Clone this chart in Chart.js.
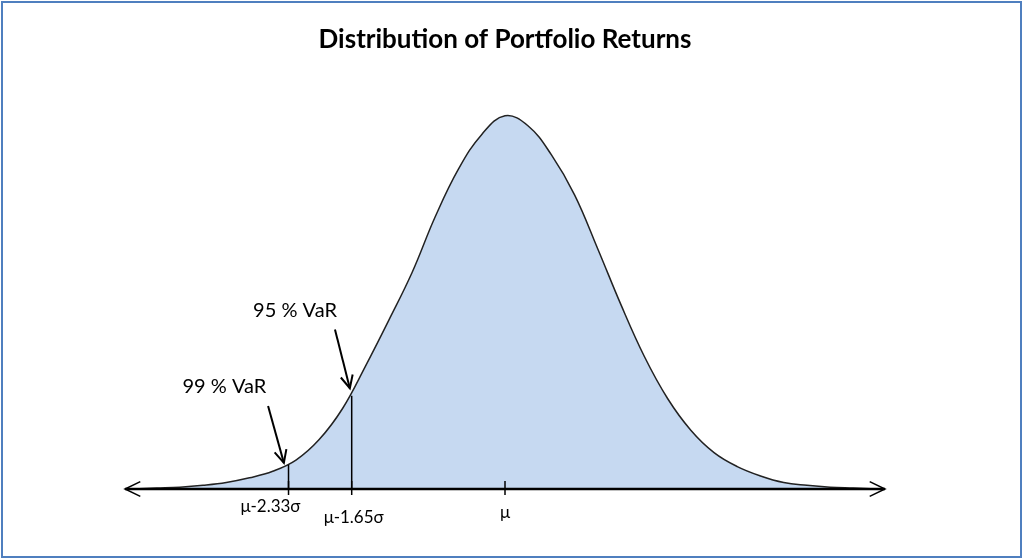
<!DOCTYPE html>
<html>
<head>
<meta charset="utf-8">
<script src="https://cdn.jsdelivr.net/npm/chart.js@4"></script>
<style>
  body { margin: 0; background: #fff; }
  #wrap { position: relative; width: 1023px; height: 559px; }
</style>
</head>
<body>
<div id="wrap"><canvas id="distChart"></canvas></div>
<script>
// returns in sigma units from the mean, densities
const returnsZ = [-4, -3.75, -3.5, -3.25, -3, -2.75, -2.5, -2.25, -2, -1.75, -1.5, -1.25, -1, -0.75, -0.5, -0.25, 0,
                  0.25, 0.5, 0.75, 1, 1.25, 1.5, 1.75, 2, 2.25, 2.5, 2.75, 3, 3.25, 3.5, 3.75, 4];
const density = [0.000, 0.001, 0.002, 0.004, 0.007, 0.012, 0.019, 0.031, 0.053, 0.086, 0.132, 0.181, 0.232, 0.292, 0.343, 0.380, 0.400,
                 0.389, 0.358, 0.315, 0.257, 0.197, 0.142, 0.097, 0.063, 0.039, 0.024, 0.014, 0.007, 0.004, 0.002, 0.001, 0.000];

// VaR cut-offs
const varZ = [-2.33, -1.65];
const varDensity = [0.026, 0.100];
const tickZ = [-2.33, -1.65, 0];
const tickLabels = ['\u03bc-2.33\u03c3', '\u03bc-1.65\u03c3', '\u03bc'];

// annotation labels and arrows (data coords)
const annLabels = ['95 % VaR', '99 % VaR'];
const annLabelZ = [-2.26, -3.02];
const annLabelY = [0.191, 0.110];
const arrowFromZ = [-1.83, -2.55];
const arrowFromY = [0.171, 0.089];
const arrowToZ = [-1.67, -2.38];
const arrowToY = [0.108, 0.028];

const curve = returnsZ.map((z, i) => ({ x: z, y: density[i] }));

const varLines = varZ.map((z, i) => ({
    type: 'line',
    data: [{ x: z, y: 0 }, { x: z, y: varDensity[i] }],
    borderColor: '#000',
    borderWidth: 1.5,
    pointRadius: 0,
    fill: false,
    tension: 0,
    order: 1
}));

function arrowHead(ctx, x1, y1, x2, y2, len) {
    const a = Math.atan2(y2 - y1, x2 - x1);
    ctx.beginPath();
    ctx.moveTo(x2 - len * Math.cos(a - 0.45), y2 - len * Math.sin(a - 0.45));
    ctx.lineTo(x2, y2);
    ctx.lineTo(x2 - len * Math.cos(a + 0.45), y2 - len * Math.sin(a + 0.45));
    ctx.stroke();
}

const extras = {
    id: 'extras',
    afterDatasetsDraw(chart) {
        const ctx = chart.ctx;
        const xs = chart.scales.x, ys = chart.scales.y;
        const y0 = ys.getPixelForValue(0);
        const left = chart.chartArea.left, right = chart.chartArea.right;
        ctx.save();
        ctx.strokeStyle = '#000';
        ctx.fillStyle = '#000';
        // axis line with open arrows
        ctx.lineWidth = 2.5;
        ctx.beginPath();
        ctx.moveTo(left, y0);
        ctx.lineTo(right, y0);
        ctx.stroke();
        ctx.lineWidth = 1.5;
        arrowHead(ctx, right - 20, y0, right, y0, 17);
        arrowHead(ctx, left + 20, y0, left, y0, 17);
        // tick marks and labels
        ctx.font = '17px Lato';
        ctx.textAlign = 'center';
        ctx.textBaseline = 'middle';
        const labelDx = [-18, 2, 0];
        const labelDy = [18, 29, 24];
        tickZ.forEach((z, i) => {
            const px = xs.getPixelForValue(z);
            ctx.lineWidth = 1.5;
            ctx.beginPath();
            ctx.moveTo(px, y0 - 8);
            ctx.lineTo(px, y0 + 6);
            ctx.stroke();
            ctx.fillText(tickLabels[i], px + labelDx[i], y0 + labelDy[i]);
        });
        // VaR annotations
        ctx.font = '20px Lato';
        annLabels.forEach((t, i) => {
            ctx.fillText(t, xs.getPixelForValue(annLabelZ[i]), ys.getPixelForValue(annLabelY[i]));
            const x1 = xs.getPixelForValue(arrowFromZ[i]), y1 = ys.getPixelForValue(arrowFromY[i]);
            const x2 = xs.getPixelForValue(arrowToZ[i]), y2 = ys.getPixelForValue(arrowToY[i]);
            ctx.lineWidth = 2;
            ctx.beginPath();
            ctx.moveTo(x1, y1);
            ctx.lineTo(x2, y2);
            ctx.stroke();
            arrowHead(ctx, x1, y1, x2, y2, 14);
        });
        // frame
        ctx.strokeStyle = '#4f7fbf';
        ctx.lineWidth = 2;
        ctx.strokeRect(2, 2, chart.width - 4, chart.height - 4);
        ctx.restore();
    }
};

new Chart(document.getElementById('distChart'), {
    type: 'line',
    data: {
        datasets: [{
            data: curve,
            borderColor: '#222',
            borderWidth: 1.5,
            backgroundColor: '#c6d9f1',
            fill: 'origin',
            pointRadius: 0,
            tension: 0.4,
            order: 2
        }].concat(varLines)
    },
    options: {
        responsive: true,
        maintainAspectRatio: false,
        animation: false,
        layout: { padding: { left: 125, right: 138, top: 0, bottom: 70 } },
        scales: {
            x: { type: 'linear', min: -4.09, max: 4.09, display: false },
            y: { min: 0, max: 0.422, display: false }
        },
        plugins: {
            legend: { display: false },
            tooltip: { enabled: false },
            title: {
                display: true,
                text: 'Distribution of Portfolio Returns',
                color: '#000',
                font: { family: 'Lato', size: 26, weight: 'bold' },
                padding: { top: 24, bottom: 40 }
            }
        }
    },
    plugins: [extras]
});
</script>
</body>
</html>
